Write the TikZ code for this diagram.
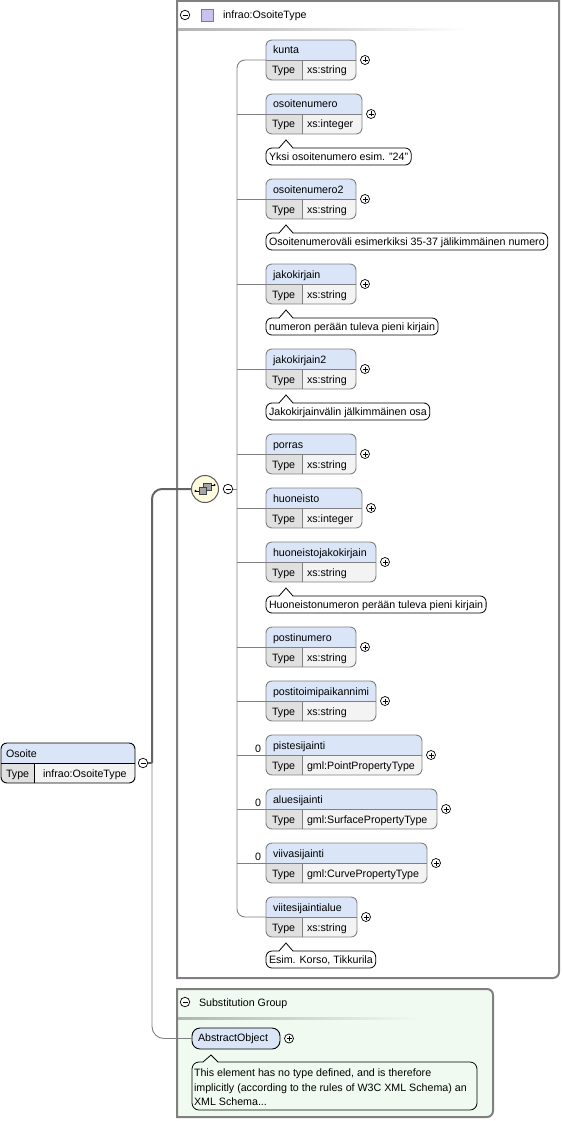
\documentclass[tikz,border=0pt]{standalone}
\usepackage{fontspec}
\setmainfont{Liberation Sans}
\definecolor{hdrblue}{RGB}{218,230,248}
\definecolor{typegray}{RGB}{224,224,224}
\definecolor{valgray}{RGB}{243,243,243}
\definecolor{elemborder}{RGB}{128,128,128}
\definecolor{connc}{RGB}{128,128,128}
\definecolor{thickc}{RGB}{100,100,100}
\definecolor{boxborder}{RGB}{128,128,128}
\definecolor{substgreen}{RGB}{241,250,241}
\definecolor{seqfill}{RGB}{255,251,222}
\definecolor{seqdraw}{RGB}{90,90,90}
\definecolor{iconsq}{RGB}{165,165,165}
\definecolor{purplefill}{RGB}{204,192,236}
\definecolor{purpledraw}{RGB}{130,110,190}
\tikzset{
  txt/.style={font=\fontsize{10.67}{12.8}\selectfont, inner sep=0, outer sep=0},
  ename/.style={txt, anchor=base west},
  elembase/.style n args={2}{anchor=north west, minimum height=40, inner sep=0, outer sep=0,
    rounded corners=6, line width=0.9, draw=#2,
    path picture={
      \fill[hdrblue, sharp corners] (path picture bounding box.north west) rectangle (path picture bounding box.east);
      \fill[typegray, sharp corners] (path picture bounding box.west) rectangle ([xshift=#1]path picture bounding box.south west);
      \fill[valgray, sharp corners] ([xshift=#1]path picture bounding box.west) rectangle (path picture bounding box.south east);
      \draw[#2, line width=0.9, sharp corners] (path picture bounding box.west) -- (path picture bounding box.east);
      \draw[#2, line width=0.9, sharp corners] ([xshift=#1]path picture bounding box.west) -- ([xshift=#1]path picture bounding box.south west);
    }},
  elem/.style={elembase={36}{elemborder}},
  rootelem/.style={elembase={33}{black}},
  expand/.style={circle, draw=black, line width=0.7, fill=white, minimum size=9, inner sep=0, outer sep=0,
    path picture={
      \draw[line width=0.7] ([xshift=-2.5]path picture bounding box.center) -- ([xshift=2.5]path picture bounding box.center);
      \draw[line width=0.7] ([yshift=-2.5]path picture bounding box.center) -- ([yshift=2.5]path picture bounding box.center);}},
  collapse/.style={circle, draw=black, line width=0.7, fill=white, minimum size=9.5, inner sep=0, outer sep=0,
    path picture={
      \draw[line width=0.8] ([xshift=-2.5]path picture bounding box.center) -- ([xshift=2.5]path picture bounding box.center);}},
  notebox/.style={txt, draw=black, line width=0.8, fill=white, rounded corners=6, anchor=north west,
    minimum height=17, inner xsep=3, text height=9, text depth=2},
  conn/.style={draw=connc, line width=0.9},
  thickconn/.style={draw=thickc, line width=2},
  iconsquare/.style={fill=iconsq, draw=black!75, line width=0.6},
}
\newcommand\elemnode[5]{%
  \node[elem, minimum width=#3] (#1) at (266,-#2) {};
  \node[ename] (#1-n) at ([xshift=7,yshift=6]#1.west) {#4};
  \node[ename] (#1-t) at ([xshift=6,yshift=-14]#1.west) {Type};
  \node[ename] (#1-v) at ([xshift=41,yshift=-14]#1.west) {#5};
  \node[expand] (#1-p) at ([xshift=9]#1.east) {};
}
\newcommand\notecallout[3]{%
  \node[notebox] (#1) at ([yshift=-14]#2.south west) {#3};
  \fill[white] ([xshift=13.5,yshift=-0.9]#1.north west) -- ([xshift=13]#1.north west)
    -- ([xshift=20,yshift=8]#1.north west) -- ([xshift=27]#1.north west)
    -- ([xshift=26.5,yshift=-0.9]#1.north west) -- cycle;
  \draw[line width=0.8] ([xshift=13]#1.north west) -- ([xshift=20,yshift=8]#1.north west) -- ([xshift=27]#1.north west);
}
\begin{document}
\begin{tikzpicture}[x=1pt,y=1pt]
\useasboundingbox (0,0) rectangle (562,-1121);
% outer type box
\draw[draw=boxborder, line width=2] (177,-1) -- (559,-1) -- (559,-972) arc[start angle=0,end angle=-90,radius=6pt] -- (177,-978) -- cycle;
\shade[left color=gray!60, right color=white] (178,-28.5) rectangle (470,-30.5);
\node[collapse] (hdrminus) at (185,-15) {};
\node[draw=purpledraw, fill=purplefill, minimum size=12, inner sep=0, line width=0.8] (typeicon) at (207,-15) {};
\node[ename] (hdrtitle) at (223,-19) {infrao:OsoiteType};
% substitution group box
\filldraw[fill=substgreen, draw=boxborder, line width=2] (177,-989) -- (487,-989) arc[start angle=90,end angle=0,radius=6pt] -- (493,-1111) arc[start angle=0,end angle=-90,radius=6pt] -- (177,-1117) -- cycle;
\shade[left color=gray!60, right color=substgreen] (178,-1017) rectangle (420,-1019);
\node[collapse] (subminus) at (185,-1002) {};
\node[ename] (subtitle) at (199,-1006) {Substitution Group};
% root element
\node[rootelem, minimum width=134] (osoite) at (1,-743) {};
\node[ename] (osoite-n) at ([xshift=5,yshift=6]osoite.west) {Osoite};
\node[ename] (osoite-t) at ([xshift=5,yshift=-14]osoite.west) {Type};
\node[ename] (osoite-v) at ([xshift=42,yshift=-14]osoite.west) {infrao:OsoiteType};
\node[collapse] (osoiteminus) at (143,-763) {};
\coordinate (trunk) at (152,-763);
% sequence compositor
\node[circle, draw=seqdraw, fill=seqfill, minimum size=27, inner sep=0, outer sep=0, line width=1] (seq) at (205,-489) {};
\draw[line width=0.7] ([xshift=-10,yshift=-2]seq.center) -- ([xshift=-6,yshift=-2]seq.center);
\fill ([xshift=-9.5,yshift=-2]seq.center) circle (1.2pt);
\draw[iconsquare] ([xshift=-2,yshift=-1]seq.center) rectangle ([xshift=6,yshift=6]seq.center);
\draw[iconsquare] ([xshift=-6,yshift=-5]seq.center) rectangle ([xshift=1,yshift=2]seq.center);
\draw[line width=0.7] ([xshift=6,yshift=4]seq.center) -- ([xshift=10,yshift=4]seq.center);
\fill ([xshift=9.5,yshift=4]seq.center) circle (1.2pt);
\node[collapse] (seqminus) at (228,-489) {};
\coordinate (spine) at (237,-489);
% children
\elemnode{kunta}{40}{90}{kunta}{xs:string}
\elemnode{osoitenumero}{94}{96}{osoitenumero}{xs:integer}
\notecallout{note-osoitenumero}{osoitenumero}{Yksi osoitenumero esim. "24"}
\elemnode{osoitenumeroB}{179}{90}{osoitenumero2}{xs:string}
\notecallout{note-osoitenumeroB}{osoitenumeroB}{Osoitenumeroväli esimerkiksi 35-37 jälikimmäinen numero}
\elemnode{jakokirjain}{264}{90}{jakokirjain}{xs:string}
\notecallout{note-jakokirjain}{jakokirjain}{numeron perään tuleva pieni kirjain}
\elemnode{jakokirjainB}{349}{90}{jakokirjain2}{xs:string}
\notecallout{note-jakokirjainB}{jakokirjainB}{Jakokirjainvälin jälkimmäinen osa}
\elemnode{porras}{434}{90}{porras}{xs:string}
\elemnode{huoneisto}{488}{96}{huoneisto}{xs:integer}
\elemnode{huoneistojakokirjain}{542}{110}{huoneistojakokirjain}{xs:string}
\notecallout{note-huoneistojakokirjain}{huoneistojakokirjain}{Huoneistonumeron perään tuleva pieni kirjain}
\elemnode{postinumero}{627}{90}{postinumero}{xs:string}
\elemnode{postitoimipaikannimi}{681}{110}{postitoimipaikannimi}{xs:string}
\elemnode{pistesijainti}{735}{156}{pistesijainti}{gml:PointPropertyType}
\elemnode{aluesijainti}{789}{171}{aluesijainti}{gml:SurfacePropertyType}
\elemnode{viivasijainti}{843}{161}{viivasijainti}{gml:CurvePropertyType}
\elemnode{viitesijaintialue}{897}{91}{viitesijaintialue}{xs:string}
\notecallout{note-viitesijaintialue}{viitesijaintialue}{Esim. Korso, Tikkurila}
\node[txt, anchor=base] (pistesijainti-min) at ([xshift=-8,yshift=3]pistesijainti.west) {0};
\node[txt, anchor=base] (aluesijainti-min) at ([xshift=-8,yshift=3]aluesijainti.west) {0};
\node[txt, anchor=base] (viivasijainti-min) at ([xshift=-8,yshift=3]viivasijainti.west) {0};
% abstract object
\node[txt, draw=black, line width=0.9, fill=hdrblue, rounded corners=8, anchor=north west, minimum height=21,
  text width=76, inner xsep=6, align=left] (abstract) at (192,-1028) {AbstractObject};
\node[expand] (abstract-p) at ([xshift=9]abstract.east) {};
\node[draw=black, line width=0.8, rounded corners=7, anchor=north west, minimum width=285, minimum height=48,
  inner sep=0, outer sep=0] (abnote) at (192,-1062) {};
\fill[substgreen] ([xshift=11.5,yshift=-0.9]abnote.north west) -- ([xshift=11]abnote.north west)
  -- ([xshift=19,yshift=7]abnote.north west) -- ([xshift=26]abnote.north west)
  -- ([xshift=25.5,yshift=-0.9]abnote.north west) -- cycle;
\draw[line width=0.8] ([xshift=11]abnote.north west) -- ([xshift=19,yshift=7]abnote.north west) -- ([xshift=26]abnote.north west);
\node[font=\fontsize{10.67}{14.5}\selectfont, inner sep=0, outer sep=0, anchor=north west, align=left] (abnote-t) at (194,-1069)
  {This element has no type defined, and is therefore\\implicitly (according to the rules of W3C XML Schema) an\\XML Schema...};
% connectors
\draw[thickconn] (osoiteminus.east) -- (trunk);
\draw[thickconn, rounded corners=10] (trunk) |- (seq.west);
\draw[conn, rounded corners=12] (trunk) |- (abstract.west);
\draw[conn] (seqminus.east) -- (spine);
\draw[conn, rounded corners=8] (kunta.west) -| (spine) |- (viitesijaintialue.west);
\foreach \c in {osoitenumero,osoitenumeroB,jakokirjain,jakokirjainB,porras,huoneisto,huoneistojakokirjain,postinumero,postitoimipaikannimi,pistesijainti,aluesijainti,viivasijainti}
  \draw[conn] (\c.west) -- (\c.west -| spine);
\end{tikzpicture}
\end{document}
